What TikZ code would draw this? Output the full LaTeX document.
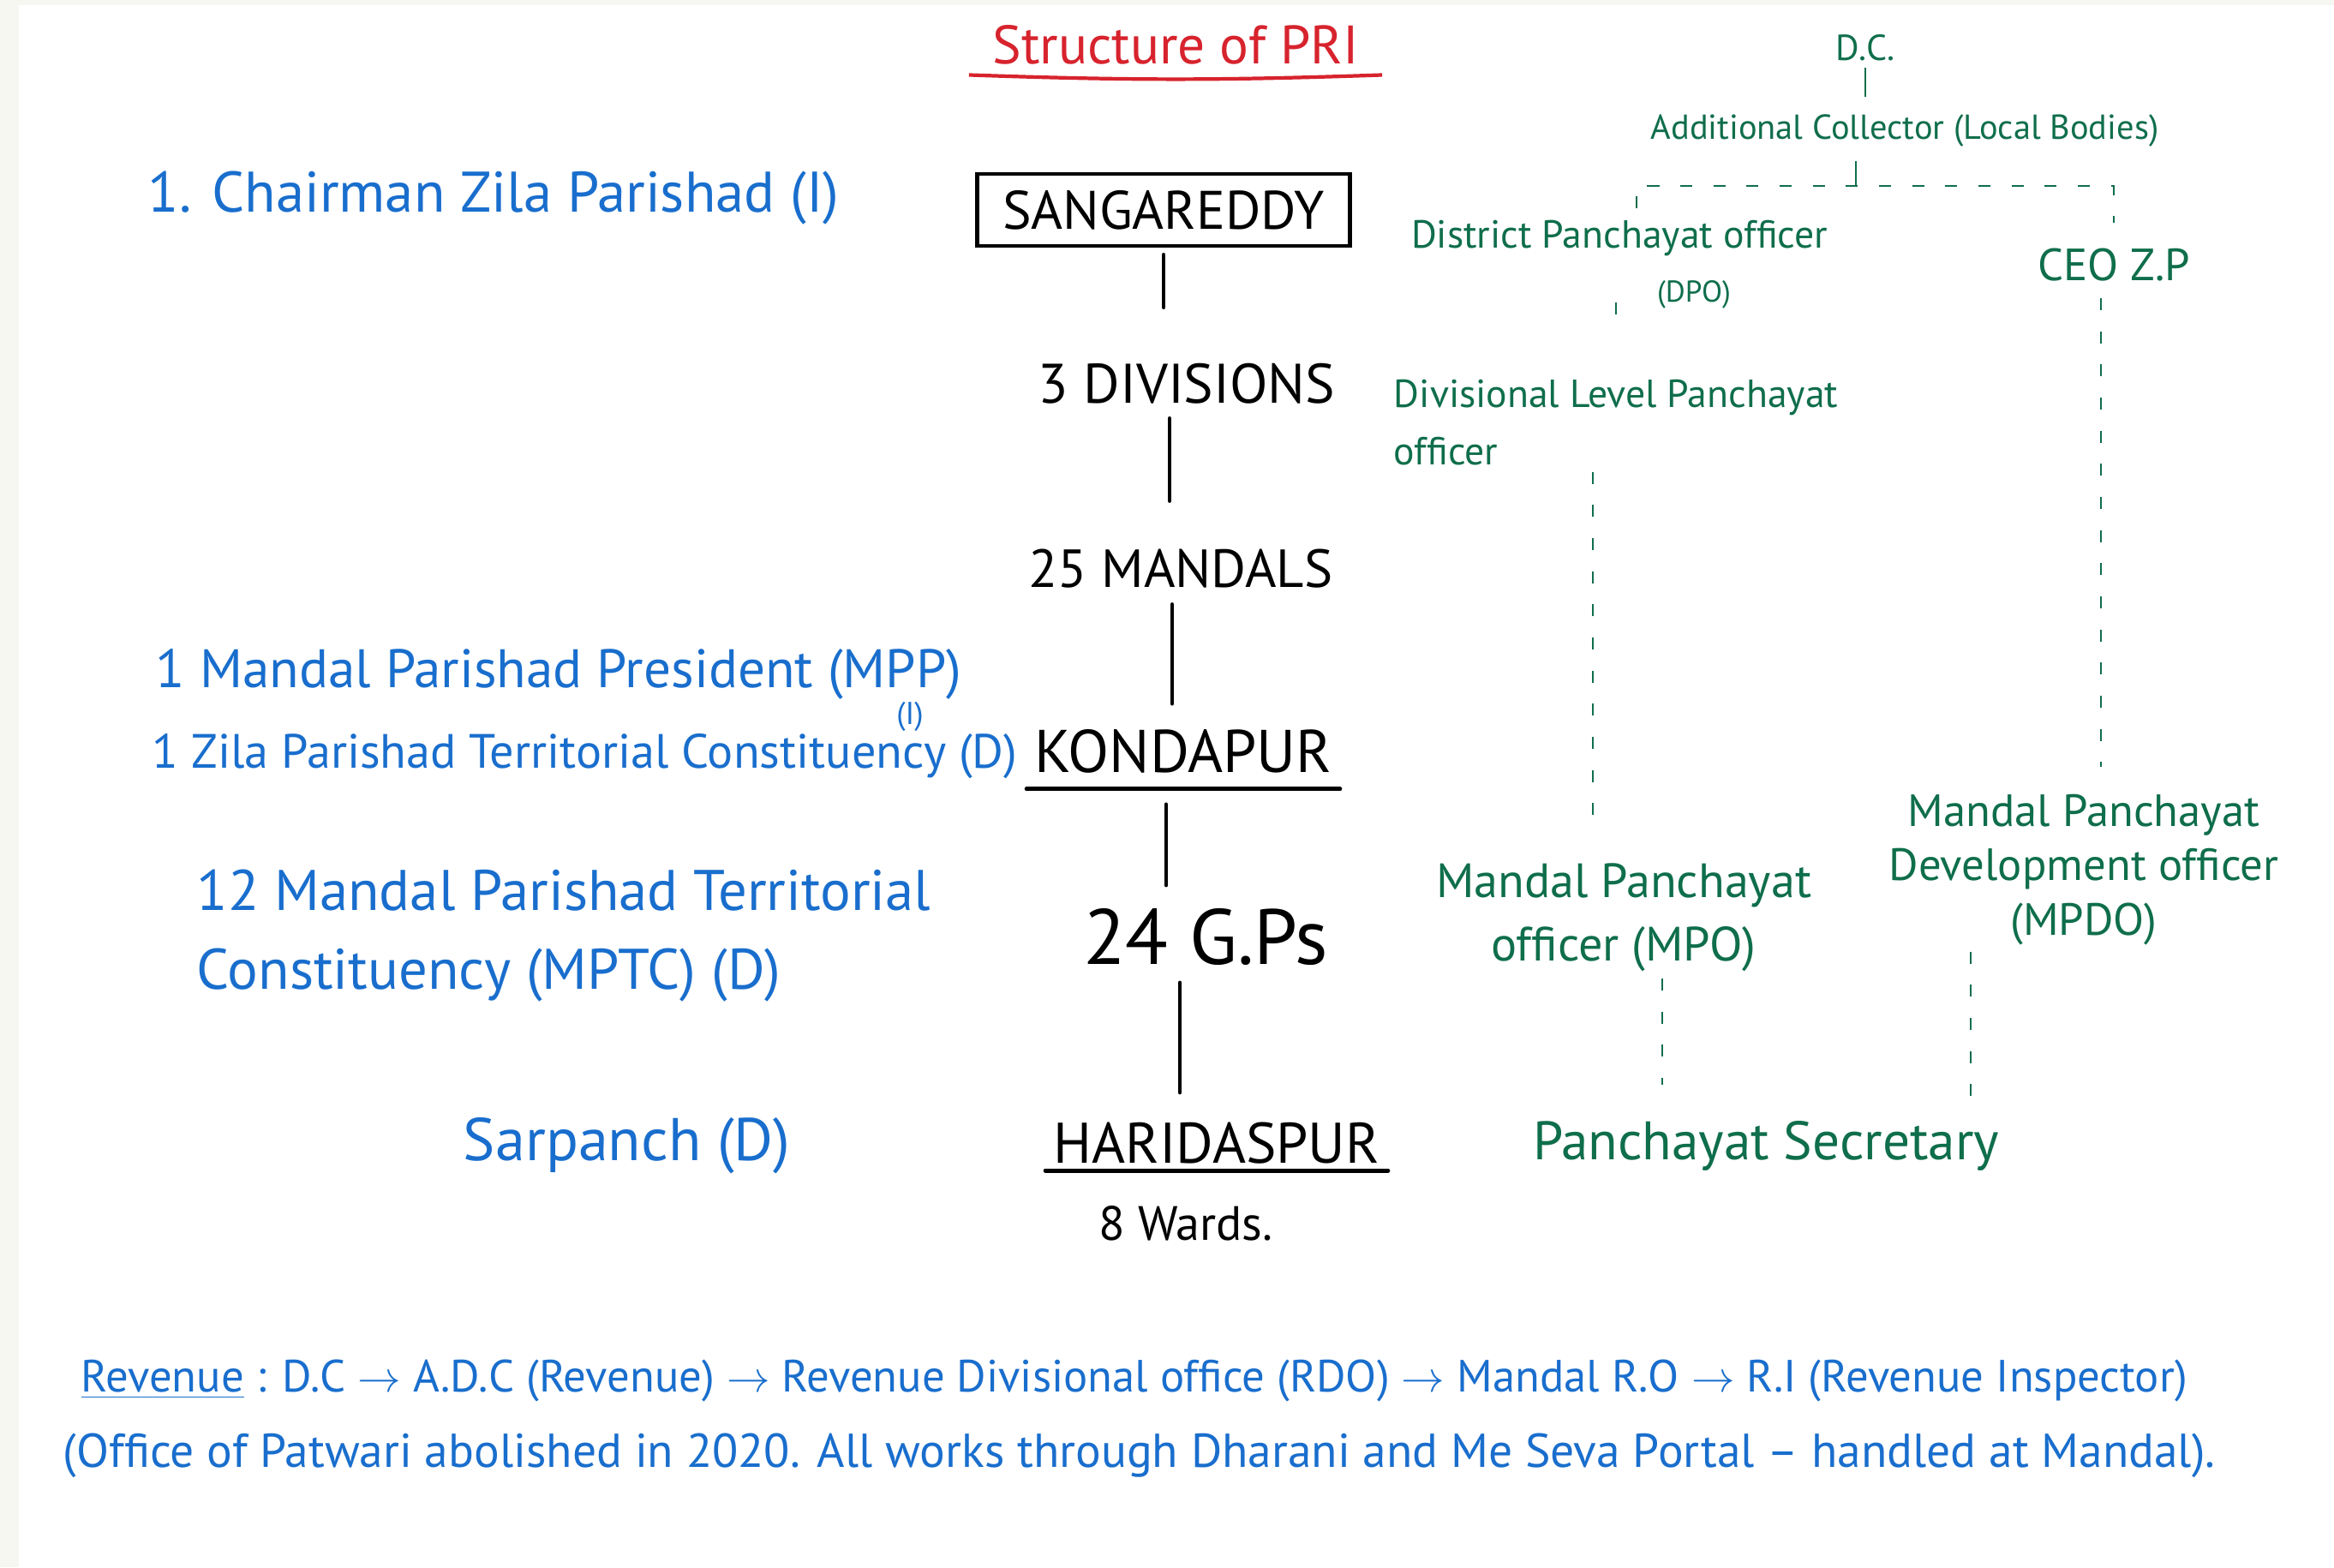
\documentclass[tikz,border=0pt]{standalone}
\usepackage{fontspec}
\setmainfont{PT Sans}
\usepackage{tikz}
\definecolor{penblue}{RGB}{25,110,205}
\definecolor{pengreen}{RGB}{15,110,75}
\definecolor{penred}{RGB}{215,35,45}
\definecolor{paper}{RGB}{246,247,240}

\begin{document}
\begin{tikzpicture}[line width=0.5pt,
        bl/.style={text=penblue,inner sep=2pt},
        gr/.style={text=pengreen,inner sep=2pt},
        bk/.style={text=black,inner sep=2pt},
        conn/.style={line width=1.4pt,line cap=round},
        gline/.style={pengreen,line width=0.7pt},
        dline/.style={pengreen,line width=0.7pt,dash pattern=on 4pt off 7pt}]
            \fill[paper] (0,0) rectangle (27.24,18.29);
            \fill[white] (0.22,0) rectangle (27.24,18.23);
            \useasboundingbox (0,0) rectangle (27.24,18.29);

            \node[text=penred,font=\fontsize{18}{22}\selectfont] (title) at(13.72,17.77) {Structure of PRI};
            \draw[penred,line width=1.2pt] ([xshift=-1.5mm]title.south west) to[bend right=2] ([xshift=1.5mm]title.south east);

            \node[bk,draw,line width=1.4pt,minimum width=4.35cm,minimum height=0.84cm,font=\fontsize{18}{22}\selectfont] (sang) at(13.58,15.84) {SANGAREDDY};
            \node[bk,font=\fontsize{18.5}{22}\selectfont] (div) at(13.85,13.81) {3 DIVISIONS};
            \node[bk,font=\fontsize{17.8}{21}\selectfont] (mand) at(13.78,11.65) {25 MANDALS};
            \node[bk,inner ysep=5pt,minimum width=3.64cm,font=\fontsize{20}{24}\selectfont] (kond) at(13.81,9.52) {KONDAPUR};
            \node[bk,font=\fontsize{26}{30}\selectfont] (gps) at(14.07,7.35) {24 G.Ps};
            \node[bk,inner ysep=2pt,minimum width=3.98cm,font=\fontsize{19}{23}\selectfont] (hari) at(14.20,4.95) {HARIDASPUR};
            \node[bk,font=\fontsize{16}{20}\selectfont] (wards) at(13.84,4.01) {8 Wards.};

            \draw[conn] (kond.south west) -- (kond.south east);
            \draw[conn] (hari.south west) -- (hari.south east);

            \draw[conn,shorten <=0.08cm,shorten >=0.58cm] (sang.south) -- (sang.south |- div.north);
            \draw[conn,shorten <=0.09cm,shorten >=0.49cm] ([xshift=-2mm]div.south) -- ([xshift=-2mm]div.south |- mand.north);
            \draw[conn,shorten <=0.11cm,shorten >=0.12cm] ([xshift=-1mm]mand.south) -- ([xshift=-1mm]mand.south |- kond.north);
            \draw[conn,shorten <=0.18cm,shorten >=0.2cm] ([xshift=-2mm]kond.south) -- ([xshift=-2mm]kond.south |- gps.north);
            \draw[conn,shorten <=0.12cm,shorten >=0.27cm] ([xshift=-3mm]gps.south) -- ([xshift=-3mm]gps.south |- hari.north);

            \node[bl,anchor=west,font=\fontsize{19}{23}\selectfont] (chair) at(1.65,15.98) {1. Chairman Zila Parishad (I)};
            \node[bl,anchor=west,font=\fontsize{18}{21}\selectfont] (mpp) at(1.74,10.42) {1 Mandal Parishad President (MPP)};
            \node[bl,inner sep=0pt,font=\fontsize{10.5}{12}\selectfont] (mppi) at(10.62,9.93) {(I)};
            \node[bl,anchor=west,font=\fontsize{16}{18}\selectfont] (zptc) at(1.70,9.46) {1 Zila Parishad Territorial Constituency (D)};
            \node[bl,anchor=west,align=left,font=\fontsize{19}{26}\selectfont] (mptc) at(2.22,7.37) {12 Mandal Parishad Territorial\\Constituency (MPTC) (D)};
            \node[bl,anchor=west,font=\fontsize{20}{24}\selectfont] (sarp) at(5.33,4.92) {Sarpanch (D)};

            \node[gr,font=\fontsize{12}{14}\selectfont] (dc) at(21.77,17.73) {D.C.};
            \node[gr,font=\fontsize{11.5}{14}\selectfont] (addl) at(22.23,16.76) {Additional Collector (Local Bodies)};
            \coordinate (split) at(21.66,16.12);
            \node[gr,font=\fontsize{13}{16}\selectfont] (dpo) at(18.90,15.51) {District Panchayat officer};
            \node[gr,font=\fontsize{10}{12}\selectfont] (dpoab) at(19.77,14.85) {(DPO)};
            \node[gr,font=\fontsize{15}{18}\selectfont] (ceo) at(24.67,15.20) {CEO Z.P};
            \node[gr,anchor=west,align=left,font=\fontsize{13}{19}\selectfont] (dlpo) at(16.19,13.36) {Divisional Level Panchayat\\officer};
            \node[gr,align=center,font=\fontsize{16}{21}\selectfont] (mpo) at(18.95,7.58) {Mandal Panchayat\\officer (MPO)};
            \node[gr,align=center,font=\fontsize{15}{18}\selectfont] (mpdo) at(24.32,8.14) {Mandal Panchayat\\Development officer\\(MPDO)};
            \node[gr,font=\fontsize{18}{22}\selectfont] (ps) at(20.61,4.92) {Panchayat Secretary};

            \draw[gline,shorten >=0.13cm] (dc.south) -- (dc.south |- addl.north);
            \draw[gline,shorten <=0.08cm] (addl.south -| split) -- (split);
            \draw[dline,shorten <=0.06cm,shorten >=0.22cm] ([xshift=2mm]dpo.north) |- (split) -| (ceo.north);
            \draw[dline,shorten <=0.46cm,shorten >=0.57cm] (dlpo.north |- dpo.south) -- (dlpo.north);
            \draw[dline,shorten >=0.36cm] ([xshift=-2.7mm]dlpo.south) -- ([xshift=-2.7mm]dlpo.south |- mpo.north);
            \draw[dline,shorten <=0.12cm,shorten >=0.24cm] ([xshift=-1.5mm]ceo.south) -- ([xshift=-1.5mm]ceo.south |- mpdo.north);
            \draw[dline,shorten >=0.34cm] ([xshift=4.5mm]mpo.south) -- ([xshift=4.5mm]mpo.south |- ps.north);
            \draw[dline] ([xshift=-13.2mm]mpdo.south) -- ([xshift=-13.2mm]mpdo.south |- ps.north);

            \node[bl,anchor=west,font=\fontsize{15}{18}\selectfont] (rev) at(0.87,2.17) {\underline{Revenue} : D.C $\rightarrow$ A.D.C (Revenue) $\rightarrow$ Revenue Divisional office (RDO) $\rightarrow$ Mandal R.O $\rightarrow$ R.I (Revenue Inspector)};
            \node[bl,anchor=west,font=\fontsize{15.8}{19}\selectfont] (note) at(0.66,1.30) {(Office of Patwari abolished in 2020. All works through Dharani and Me Seva Portal -- handled at Mandal).};
        \end{tikzpicture}
\end{document}
